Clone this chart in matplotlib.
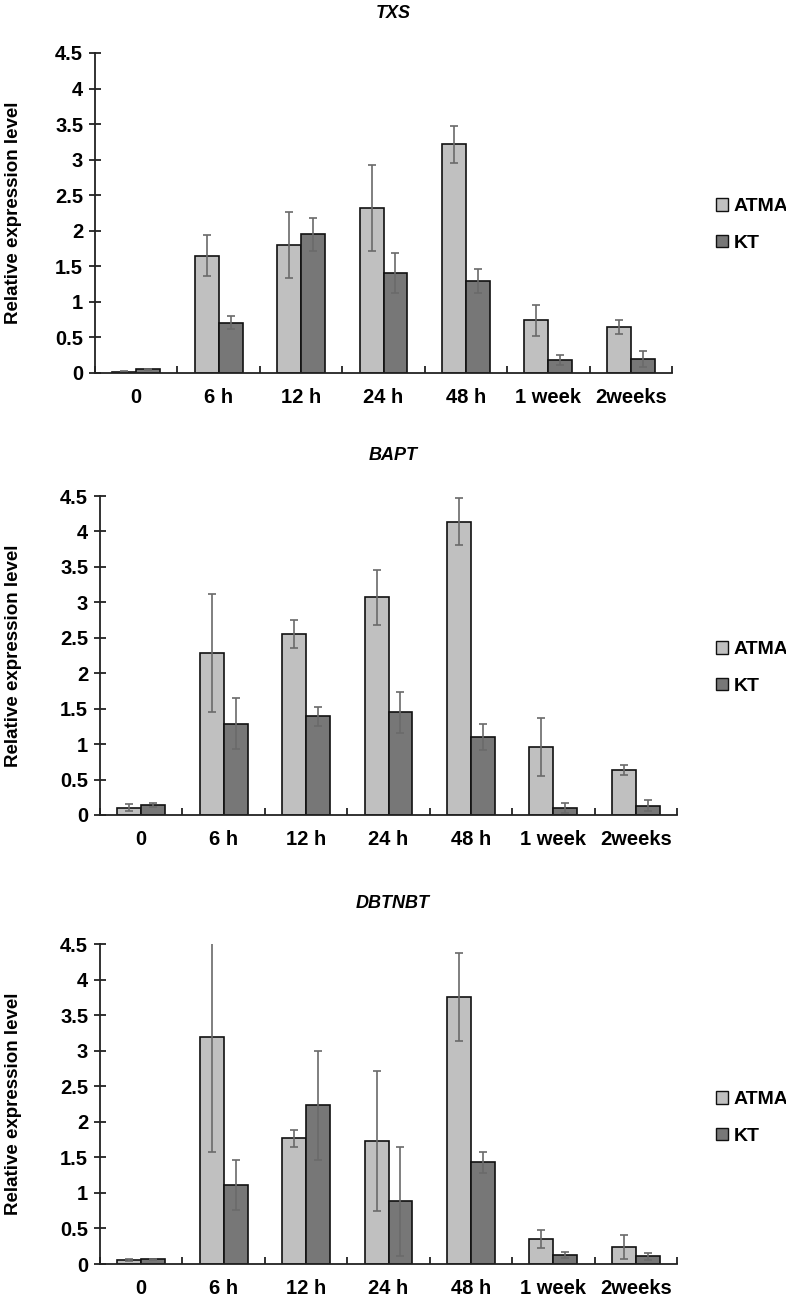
import numpy as np
import matplotlib.pyplot as plt
from matplotlib.patches import Patch

categories = ['0', '6 h', '12 h', '24 h', '48 h', '1 week', '2weeks']

# TXS
txs_atma = [0.02, 1.65, 1.80, 2.32, 3.22, 0.74, 0.65]
txs_atma_err = [0.01, 0.29, 0.46, 0.61, 0.26, 0.22, 0.10]
txs_kt = [0.05, 0.71, 1.95, 1.41, 1.29, 0.18, 0.20]
txs_kt_err = [0.01, 0.09, 0.23, 0.28, 0.17, 0.07, 0.11]

# BAPT
bapt_atma = [0.10, 2.29, 2.55, 3.07, 4.14, 0.96, 0.64]
bapt_atma_err = [0.05, 0.83, 0.20, 0.39, 0.33, 0.41, 0.07]
bapt_kt = [0.136, 1.29, 1.39, 1.45, 1.10, 0.10, 0.13]
bapt_kt_err = [0.03, 0.36, 0.13, 0.29, 0.18, 0.07, 0.08]

# DBTNBT
dbt_atma = [0.056, 3.19, 1.77, 1.73, 3.75, 0.35, 0.24]
dbt_atma_err = [0.015, 1.61, 0.12, 0.99, 0.62, 0.13, 0.17]
dbt_kt = [0.066, 1.11, 2.23, 0.88, 1.43, 0.13, 0.11]
dbt_kt_err = [0.01, 0.35, 0.77, 0.77, 0.15, 0.04, 0.05]

genes = ['TXS', 'BAPT', 'DBTNBT']
atma_all = [txs_atma, bapt_atma, dbt_atma]
atma_err_all = [txs_atma_err, bapt_atma_err, dbt_atma_err]
kt_all = [txs_kt, bapt_kt, dbt_kt]
kt_err_all = [txs_kt_err, bapt_kt_err, dbt_kt_err]

c_atma = '#c0c0c0'
c_kt = '#777777'
c_err = '#6a6a6a'

plt.rcParams['font.family'] = ['Liberation Sans', 'DejaVu Sans']

W, H = 786, 1305
fig = plt.figure(figsize=(W / 100, H / 100), dpi=100)

# (left px, top px, bottom px, title y px, legend centre y px)
layout = [
    (95, 53, 373, 13, 225),
    (100, 496, 815, 455, 668),
    (100, 944, 1264, 903, 1118),
]
ax_w = 577

x = np.arange(len(categories))
w = 0.29

for i, (lp, tp, bp, ty, ly) in enumerate(layout):
    ax = fig.add_axes([lp / W, 1 - bp / H, ax_w / W, (bp - tp) / H])
    for xs, vals, errs, col in [(x - w / 2, atma_all[i], atma_err_all[i], c_atma),
                                (x + w / 2, kt_all[i], kt_err_all[i], c_kt)]:
        ax.bar(xs, vals, w, color=col, edgecolor='#111111', linewidth=1.2,
               yerr=errs, ecolor=c_err, capsize=3,
               error_kw={'elinewidth': 1.2, 'capthick': 1.2}, zorder=2)

    ax.set_xlim(-0.5, len(categories) - 0.5)
    ax.set_ylim(0, 4.5)
    ax.set_yticks(np.arange(0, 4.51, 0.5))
    ax.set_yticklabels(['0', '0.5', '1', '1.5', '2', '2.5', '3', '3.5', '4', '4.5'],
                       fontsize=14.5, fontweight='bold')
    # group boundary ticks (major) and category labels (minor)
    ax.set_xticks(np.arange(-0.5, len(categories), 1.0))
    ax.set_xticklabels([])
    ax.set_xticks(x, minor=True)
    ax.set_xticklabels(categories, minor=True, fontsize=14.5, fontweight='bold')
    ax.tick_params(axis='x', which='minor', length=0, pad=11)
    ax.tick_params(axis='x', which='major', length=5, width=1.3, color='#222222', direction='in')
    ax.tick_params(axis='y', length=9, width=1.3, color='#222222', direction='inout', pad=4)

    for s in ['top', 'right']:
        ax.spines[s].set_visible(False)
    for s in ['left', 'bottom']:
        ax.spines[s].set_color('#222222')
        ax.spines[s].set_linewidth(1.3)

    ax.set_ylabel('Relative expression level', fontsize=13.5, fontweight='bold')
    ax.yaxis.label.set_va('center')
    ax.yaxis.set_label_coords((14 - lp) / ax_w, 0.5)

    fig.text(0.5, 1 - ty / H, genes[i], ha='center', va='center', fontsize=13,
             fontweight='bold', style='italic')

    handles = [Patch(facecolor=c_atma, edgecolor='#111111', linewidth=1.0, label='ATMA'),
               Patch(facecolor=c_kt, edgecolor='#111111', linewidth=1.0, label='KT')]
    fig.legend(handles=handles, loc='center left', bbox_to_anchor=(706 / W, 1 - ly / H),
               frameon=False, borderpad=0, handlelength=0.62, handleheight=0.62,
               handletextpad=0.3, labelspacing=1.0, prop={'size': 14, 'weight': 'bold'})

fig.savefig('out.png', dpi=100)
